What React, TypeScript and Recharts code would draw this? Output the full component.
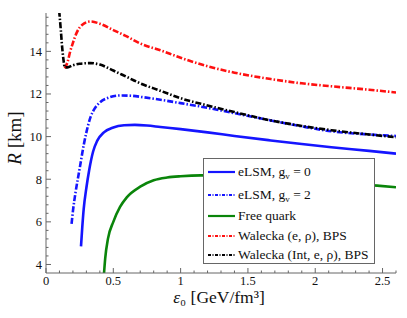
import React from 'react';
import { LineChart, Line, XAxis, YAxis } from 'recharts';

// values
const eLSM0X = [0.26, 0.27, 0.28, 0.3, 0.32, 0.35, 0.38, 0.43, 0.5, 0.58, 0.66, 0.75, 0.85, 1.0, 1.2, 1.4, 1.67, 1.9, 2.12, 2.4, 2.6];
const eLSM0Y = [4.85, 5.8, 6.6, 7.6, 8.4, 9.3, 9.8, 10.2, 10.43, 10.53, 10.55, 10.52, 10.45, 10.35, 10.2, 10.03, 9.82, 9.65, 9.5, 9.33, 9.2];

const eLSM2X = [0.19, 0.2, 0.22, 0.25, 0.28, 0.3, 0.33, 0.36, 0.4, 0.47, 0.55, 0.63, 0.72, 0.85, 1.0, 1.2, 1.4, 1.67, 1.9, 2.12, 2.4, 2.6];
const eLSM2Y = [5.9, 6.5, 7.4, 8.5, 9.6, 10.2, 10.9, 11.3, 11.6, 11.84, 11.93, 11.92, 11.85, 11.73, 11.57, 11.35, 11.1, 10.76, 10.48, 10.25, 10.1, 10.03];

const quarkX = [0.43, 0.44, 0.46, 0.5, 0.55, 0.6, 0.7, 0.8, 0.9, 1.0, 1.15, 1.3, 1.5, 1.8, 2.1, 2.46, 2.6];
const quarkY = [3.5, 4.3, 5.2, 6.0, 6.7, 7.15, 7.65, 7.95, 8.08, 8.14, 8.18, 8.18, 8.1, 7.98, 7.85, 7.7, 7.62];

const waleckaX = [0.14, 0.16, 0.18, 0.2, 0.23, 0.27, 0.33, 0.4, 0.5, 0.6, 0.7, 0.85, 1.0, 1.2, 1.4, 1.67, 1.9, 2.12, 2.4, 2.6];
const waleckaY = [13.2, 13.5, 14.0, 14.4, 14.9, 15.25, 15.4, 15.3, 15.0, 14.7, 14.37, 14.05, 13.7, 13.3, 13.0, 12.7, 12.5, 12.36, 12.2, 12.07];

const waleckaIntX = [0.098, 0.11, 0.12, 0.13, 0.14, 0.16, 0.2, 0.25, 0.33, 0.4, 0.5, 0.6, 0.7, 0.85, 1.0, 1.2, 1.4, 1.67, 1.9, 2.12, 2.4, 2.6];
const waleckaIntY = [15.9, 15.0, 14.2, 13.6, 13.25, 13.25, 13.35, 13.42, 13.45, 13.38, 13.1, 12.8, 12.5, 12.15, 11.8, 11.46, 11.15, 10.76, 10.5, 10.3, 10.1, 9.97];

const xTicks = [0, 0.1, 0.2, 0.3, 0.4, 0.5, 0.6, 0.7, 0.8, 0.9, 1, 1.1, 1.2, 1.3, 1.4, 1.5, 1.6, 1.7, 1.8, 1.9, 2, 2.1, 2.2, 2.3, 2.4, 2.5, 2.6];
const yTicks = [4, 4.4, 4.8, 5.2, 5.6, 6, 6.4, 6.8, 7.2, 7.6, 8, 8.4, 8.8, 9.2, 9.6, 10, 10.4, 10.8, 11.2, 11.6, 12, 12.4, 12.8, 13.2, 13.6, 14, 14.4, 14.8, 15.2, 15.6];

const toPoints = (xs: number[], ys: number[]) => xs.map((x, i) => ({ x, y: ys[i] }));

const BLUE = '#1515ff';
const GREEN = '#0a850a';
const RED = '#ff1010';
const BLACK = '#000000';
const DASHDOT = '6 2 1.5 2';
const SMALL_DASHDOT = '3 1.5 1 1.5';

const series = [
  { name: 'eLSM0', data: toPoints(eLSM0X, eLSM0Y), color: BLUE, dash: undefined },
  { name: 'eLSM2', data: toPoints(eLSM2X, eLSM2Y), color: BLUE, dash: DASHDOT },
  { name: 'quark', data: toPoints(quarkX, quarkY), color: GREEN, dash: undefined },
  { name: 'walecka', data: toPoints(waleckaX, waleckaY), color: RED, dash: DASHDOT },
  { name: 'waleckaInt', data: toPoints(waleckaIntX, waleckaIntY), color: BLACK, dash: DASHDOT },
];

const FONT = "'Liberation Serif', 'DejaVu Serif', serif";
const FRAME = '#666';

const isMultiple = (v: number, step: number) => Math.abs(v / step - Math.round(v / step)) < 1e-6;

const XTick = (props: any) => {
  const { x, y, payload, top } = props;
  const v = payload.value;
  const major = isMultiple(v, 0.5);
  const len = major ? 5 : 2.5;
  const dir = top ? 1 : -1;
  return (
    <g>
      <line x1={x} y1={y} x2={x} y2={y + dir * len} stroke={FRAME} strokeWidth={1} />
      {!top && major && (
        <text x={x} y={y + 12} textAnchor="middle" fontFamily={FONT} fontSize={12.5} fill="#111">
          {String(v)}
        </text>
      )}
    </g>
  );
};

const YTick = (props: any) => {
  const { x, y, payload, right } = props;
  const v = payload.value;
  const major = isMultiple(v, 2);
  const len = major ? 5 : 2.5;
  const dir = right ? -1 : 1;
  return (
    <g>
      <line x1={x} y1={y} x2={x + dir * len} y2={y} stroke={FRAME} strokeWidth={1} />
      {!right && major && (
        <text x={x - 4} y={y + 4.5} textAnchor="end" fontFamily={FONT} fontSize={12.5} fill="#111">
          {String(v)}
        </text>
      )}
    </g>
  );
};

const YLabel = () => (
  <text x={21} y={138} transform="rotate(-90 21 138)" textAnchor="middle" fontFamily={FONT} fontSize={19} fill="#111">
    <tspan fontStyle="italic">R</tspan> [km]
  </text>
);

const XLabel = () => (
  <text x={219} y={303} textAnchor="middle" fontFamily={FONT} fontSize={17.5} fill="#111">
    <tspan fontStyle="italic">ε</tspan>₀ [GeV/fm³]
  </text>
);

const sub = (s: string) => <sub style={{ fontSize: 9, verticalAlign: '-3px', lineHeight: 0 }}>{s}</sub>;

const legendItems = [
  { label: <>eLSM, g{sub('v')} = 0</>, color: BLUE, dash: undefined, h: 23 },
  { label: <>eLSM, g{sub('v')} = 2</>, color: BLUE, dash: SMALL_DASHDOT, h: 23 },
  { label: <>Free quark</>, color: GREEN, dash: undefined, h: 20 },
  { label: <>Walecka (e, ρ), BPS</>, color: RED, dash: SMALL_DASHDOT, h: 19 },
  { label: <>Walecka (Int, e, ρ), BPS</>, color: BLACK, dash: SMALL_DASHDOT, h: 19 },
];

const LegendBox = () => (
  <div
    style={{
      position: 'absolute',
      left: 203,
      top: 158,
      width: 172,
      height: 106,
      border: `1px solid ${FRAME}`,
      background: '#fff',
      fontFamily: FONT,
      fontSize: 13.5,
      color: '#111',
      boxSizing: 'border-box',
      paddingTop: 1,
    }}
  >
    {legendItems.map((it, i) => (
      <div key={i} style={{ display: 'flex', alignItems: 'center', height: it.h, whiteSpace: 'nowrap' }}>
        <svg width={34} height={10} style={{ flex: 'none' }}>
          <line x1={4} y1={5} x2={31} y2={5} stroke={it.color} strokeWidth={2.2} strokeDasharray={it.dash} />
        </svg>
        <span style={{ lineHeight: '14px' }}>{it.label}</span>
      </div>
    ))}
  </div>
);

export default function App() {
  return (
    <div style={{ position: 'absolute', left: 0, top: 0, width: 407, height: 318, background: '#fff' }}>
      <LineChart width={407} height={318} margin={{ top: 13, right: 11, bottom: 0, left: 0 }}>
        <XAxis
          xAxisId="b"
          dataKey="x"
          type="number"
          domain={[0, 2.6]}
          ticks={xTicks}
          interval={0}
          allowDataOverflow
          height={45}
          tickSize={0}
          tickMargin={0}
          tickLine={false}
          axisLine={{ stroke: FRAME }}
          tick={(p: any) => <XTick {...p} />}
        />
        <XAxis
          xAxisId="t"
          orientation="top"
          dataKey="x"
          type="number"
          domain={[0, 2.6]}
          ticks={xTicks}
          interval={0}
          allowDataOverflow
          height={0}
          tickSize={0}
          tickMargin={0}
          tickLine={false}
          axisLine={{ stroke: FRAME }}
          tick={(p: any) => <XTick {...p} top />}
        />
        <YAxis
          yAxisId="l"
          type="number"
          domain={[3.6, 15.8]}
          ticks={yTicks}
          interval={0}
          allowDataOverflow
          width={46}
          tickSize={0}
          tickMargin={0}
          tickLine={false}
          axisLine={{ stroke: FRAME }}
          tick={(p: any) => <YTick {...p} />}
        />
        <YAxis
          yAxisId="r"
          orientation="right"
          type="number"
          domain={[3.6, 15.8]}
          ticks={yTicks}
          interval={0}
          allowDataOverflow
          width={0}
          tickSize={0}
          tickMargin={0}
          tickLine={false}
          axisLine={{ stroke: FRAME }}
          tick={(p: any) => <YTick {...p} right />}
        />
        {series.map((s) => (
          <Line
            key={s.name}
            xAxisId="b"
            yAxisId="l"
            data={s.data}
            dataKey="y"
            type="monotone"
            stroke={s.color}
            strokeWidth={2.6}
            strokeDasharray={s.dash}
            dot={false}
            activeDot={false}
            isAnimationActive={false}
          />
        ))}
        <YLabel />
        <XLabel />
      </LineChart>
      <LegendBox />
    </div>
  );
}
